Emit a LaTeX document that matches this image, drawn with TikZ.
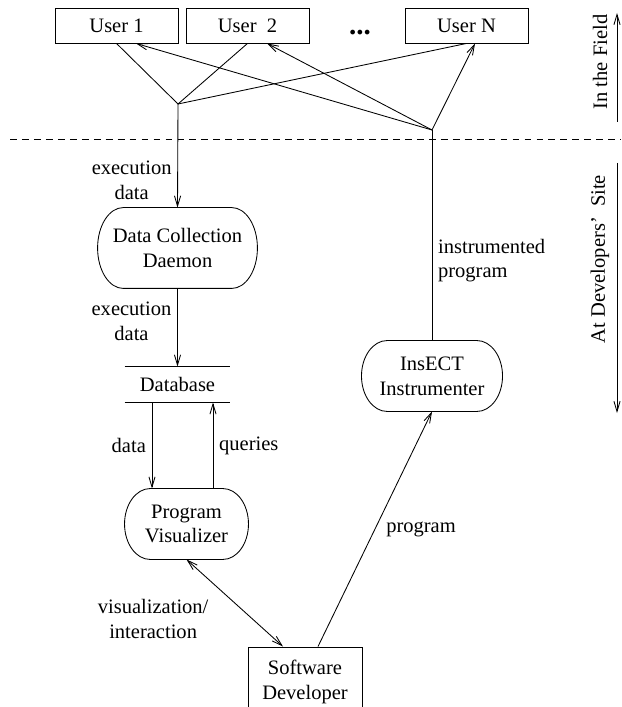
\documentclass[tikz,border=0pt]{standalone}
\usepackage{fontspec}
\setmainfont{Liberation Serif}
\usetikzlibrary{arrows.meta,calc}

% oval outline with elliptic ends round a named node
\newcommand{\drawoval}[1]{%
	\draw let \p1=(#1.north), \p2=(#1.south), \n1={(\y1-\y2)/2} in
		([xshift=15pt]#1.north west) -- ([xshift=-15pt]#1.north east)
		arc[start angle=90, end angle=-90, x radius=15pt, y radius=\n1]
		-- ([xshift=15pt]#1.south west)
		arc[start angle=270, end angle=90, x radius=15pt, y radius=\n1] -- cycle;}

\begin{document}
\begin{tikzpicture}[x=0.585pt,y=-0.585pt,line width=0.5pt,
	>={Straight Barb[length=6pt,width=3.6pt]},
	font=\fontsize{12}{14.5}\selectfont]
\tikzset{
	userbox/.style={draw,
		align=center,
		minimum width=72pt,
		minimum height=20.5pt,
		inner sep=0pt},
	procbox/.style={align=center,
		inner sep=0pt}, % outline comes from \drawoval
	lbl/.style={align=center}
}
\clip (0,0) rectangle (621,707);

\node[userbox] (U1) at (116.5,25.5) {User 1};
\node[userbox] (U2) at (247.5,25.5) {User\ \ 2};
\node[font=\fontsize{17}{17}\selectfont\bfseries, anchor=base] (dots) at (360,35) {...};
\node[userbox] (UN) at (466.5,25.5) {User N};
\coordinate (fanin) at (178,104);
\coordinate (fanout) at (432,130);

\draw[dash pattern=on 4pt off 3pt] (10,139) -- (621,139);
\node[rotate=90] (field) at (600,62) {In the Field};
\node[rotate=90] (site) at (600,259) {At Developers'\ \ Site};
\coordinate (fieldlo) at (617,122);
\coordinate (fieldhi) at (617,13);
\coordinate (sitehi) at (617,163);
\coordinate (sitelo) at (617,413);
\draw[->] (fieldlo) -- (fieldhi);
\draw[->] (sitehi) -- (sitelo);

\node[procbox, minimum width=93pt, minimum height=46.8pt] (DCD) at (177.5,248) {Data Collection\\Daemon};
\drawoval{DCD}
\node[minimum width=61.4pt, minimum height=20.5pt, inner sep=0pt] (DB) at (177.5,384.5) {Database};
\draw (DB.north west) -- (DB.north east) (DB.south west) -- (DB.south east);
\node[procbox, minimum width=82pt, minimum height=41pt] (INS) at (432,376) {InsECT\\Instrumenter};
\drawoval{INS}
\node[procbox, minimum width=72pt, minimum height=41pt] (PV) at (186.5,524) {Program\\Visualizer};
\drawoval{PV}
\node[userbox, minimum width=66.7pt, minimum height=41pt] (SD) at (305,682) {Software\\Developer};

\draw (U1.south) -- (fanin) -- (U2.south);
\draw (fanin) -- (UN.south);
\draw[->] (fanout) -- ($(U1.south)+(19.5,0)$);
\draw[->] (fanout) -- ($(U2.south)+(19.5,0)$);
\draw[->] (fanout) -- ($(UN.south)+(8.5,0)$);

\draw[->] (fanin) -- (DCD.north) node[lbl, left, pos=0.74] {execution\\data};
\draw[->] (DCD.south) -- (DB.north) node[lbl, left, pos=0.42] {execution\\data};
\draw[->] (152,0 |- DB.south) -- (152,0 |- PV.north) node[left, midway] {data};
\draw[->] (213,0 |- PV.north) -- (213,0 |- DB.south) node[right, midway] {queries};
\draw (fanout) -- (INS.north) node[right, pos=0.62, align=left] {instrumented\\program};
\draw[->] ($(SD.north)+(13,0)$) -- (INS.south) node[right, midway, xshift=3pt] {program};
\draw[<->] (PV.south) -- ($(SD.north)+(-22,0)$) node[lbl, left=22pt, pos=0.68] {visualization/\\interaction};
\end{tikzpicture}
\end{document}
